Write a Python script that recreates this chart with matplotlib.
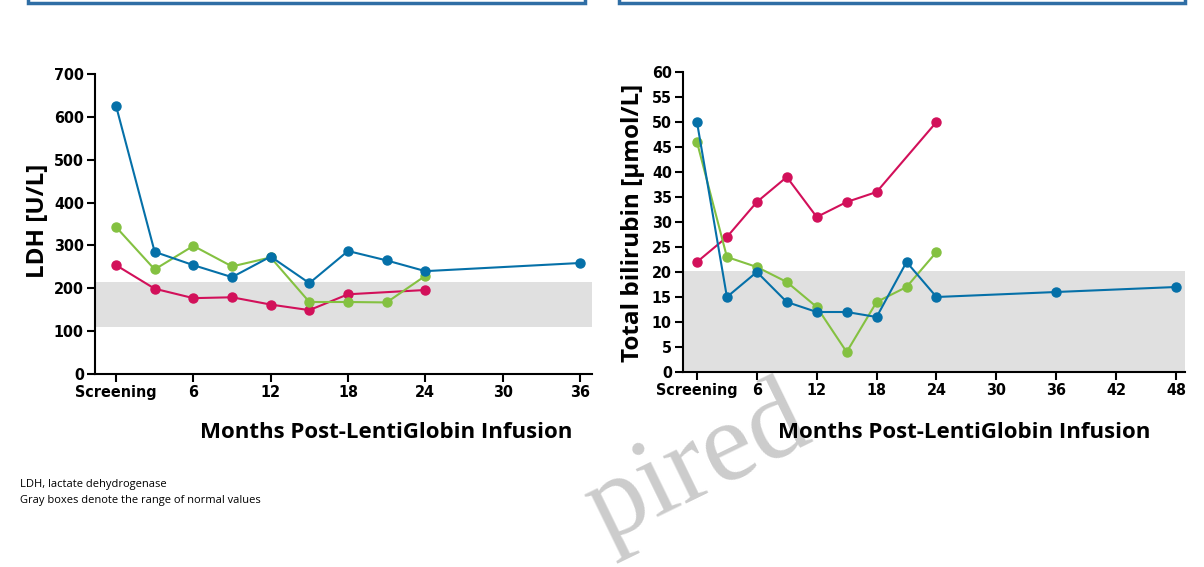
import matplotlib
matplotlib.use("Agg")
import matplotlib.pyplot as plt
from matplotlib.patches import Rectangle

# months after infusion (0 = screening)
ldh_blue_x = [0, 3, 6, 9, 12, 15, 18, 21, 24, 36]
ldh_blue_y = [626, 285, 254, 226, 274, 212, 287, 265, 240, 259]
ldh_green_x = [0, 3, 6, 9, 12, 15, 18, 21, 24]
ldh_green_y = [343, 244, 299, 251, 272, 168, 168, 167, 229]
ldh_red_x = [0, 3, 6, 9, 12, 15, 18, 24]
ldh_red_y = [254, 199, 177, 179, 162, 149, 186, 196]
ldh_normal = (110, 215)

bili_blue_x = [0, 3, 6, 9, 12, 15, 18, 21, 24, 36, 48]
bili_blue_y = [50, 15, 20, 14, 12, 12, 11, 22, 15, 16, 17]
bili_green_x = [0, 3, 6, 9, 12, 15, 18, 21, 24]
bili_green_y = [46, 23, 21, 18, 13, 4, 14, 17, 24]
bili_red_x = [0, 3, 6, 9, 12, 15, 18, 24]
bili_red_y = [22, 27, 34, 39, 31, 34, 36, 50]
bili_normal = (0, 20.3)

ldh_xticks = [0, 6, 12, 18, 24, 30, 36]
ldh_xlabels = ["Screening", "6", "12", "18", "24", "30", "36"]
bili_xticks = [0, 6, 12, 18, 24, 30, 36, 42, 48]
bili_xlabels = ["Screening", "6", "12", "18", "24", "30", "36", "42", "48"]

BLUE = "#0570a8"
GREEN = "#84c141"
RED = "#d2105a"
BAND = "#e0e0e0"

tick_font = ["Liberation Sans Narrow", "DejaVu Sans"]
label_font = ["Open Sans", "DejaVu Sans"]

fig = plt.figure(figsize=(12.04, 5.67), dpi=100)

# header box edges at the very top
fig.patches.append(Rectangle((28 / 1204, 1 - 3 / 567), 557 / 1204, 0.05,
                             transform=fig.transFigure, facecolor="white",
                             edgecolor="#2f6ea5", linewidth=2.5))
fig.patches.append(Rectangle((619 / 1204, 1 - 3 / 567), 566 / 1204, 0.05,
                             transform=fig.transFigure, facecolor="white",
                             edgecolor="#2f6ea5", linewidth=2.5))


def style_axes(ax, xticks, xlabels, ylabel, xlim, ylim, yticks):
    ax.set_xlim(*xlim)
    ax.set_ylim(*ylim)
    ax.set_xticks(xticks)
    ax.set_xticklabels(xlabels)
    ax.set_yticks(yticks)
    for s in ["top", "right"]:
        ax.spines[s].set_visible(False)
    for s in ["left", "bottom"]:
        ax.spines[s].set_linewidth(1.5)
    ax.tick_params(direction="out", length=6, width=1.5, pad=2)
    for lab in ax.get_xticklabels() + ax.get_yticklabels():
        lab.set_family(tick_font)
        lab.set_fontweight("bold")
        lab.set_fontstretch("condensed")
        lab.set_fontsize(11.5)
    ax.set_xlabel("Months Post-LentiGlobin Infusion", family=label_font,
                  fontweight="bold", fontsize=16)
    ax.set_ylabel(ylabel, family=label_font, fontweight="bold", fontsize=17.5)


def draw(ax, x, y, color):
    ax.plot(x, y, color=color, linewidth=1.5, marker="o", markersize=6.5,
            zorder=3)


ax1 = fig.add_axes([95 / 1204, (567 - 374) / 567, 497 / 1204, 300 / 567])
ax1.axhspan(*ldh_normal, color=BAND, zorder=0, linewidth=0)
draw(ax1, ldh_red_x, ldh_red_y, RED)
draw(ax1, ldh_green_x, ldh_green_y, GREEN)
draw(ax1, ldh_blue_x, ldh_blue_y, BLUE)
style_axes(ax1, ldh_xticks, ldh_xlabels, "LDH [U/L]", (-1.63, 36.93),
           (0, 700), range(0, 701, 100))
ax1.xaxis.set_label_coords((386 - 95) / 497, -(432 - 374) / 300)
ax1.xaxis.label.set_va("center")
ax1.yaxis.set_label_coords(-(95 - 38) / 497, (374 - 221) / 300)
ax1.yaxis.label.set_va("center")

ax2 = fig.add_axes([683 / 1204, (567 - 372) / 567, 502 / 1204, 300 / 567])
ax2.axhspan(*bili_normal, color=BAND, zorder=0, linewidth=0)
draw(ax2, bili_red_x, bili_red_y, RED)
draw(ax2, bili_green_x, bili_green_y, GREEN)
draw(ax2, bili_blue_x, bili_blue_y, BLUE)
style_axes(ax2, bili_xticks, bili_xlabels, "Total bilirubin [µmol/L]",
           (-1.4, 48.9), (0, 60), range(0, 61, 5))
ax2.xaxis.set_label_coords((964 - 683) / 502, -(432 - 372) / 300)
ax2.xaxis.label.set_va("center")
ax2.yaxis.set_label_coords(-(683 - 633) / 502, (372 - 223) / 300)
ax2.yaxis.label.set_va("center")

fig.text(20 / 1204, 1 - 484 / 567, "LDH, lactate dehydrogenase",
         family=label_font, fontsize=8, va="center")
fig.text(20 / 1204, 1 - 501 / 567, "Gray boxes denote the range of normal values",
         family=label_font, fontsize=8, va="center")

# faint watermark (only the visible part), kept under the axis labels
ax2.text(815 / 1204, 1 - 440 / 567, "pired", transform=fig.transFigure,
         family=["Liberation Serif", "DejaVu Serif"], fontsize=82,
         color="#cccccc", rotation=26, rotation_mode="anchor", ha="right",
         va="baseline", zorder=1, clip_on=False)

fig.savefig("out.png", dpi=100)
